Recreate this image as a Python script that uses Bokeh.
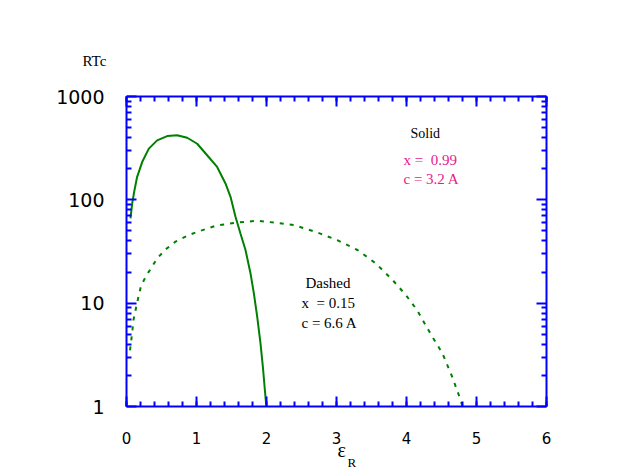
from bokeh.plotting import figure
from bokeh.models import Label, LinearAxis, LogAxis, FixedTicker, Range1d, PrintfTickFormatter, Title
from bokeh.embed import file_html
from bokeh.resources import INLINE

# ---- data ----
solid_x = [0.057, 0.081, 0.114, 0.152, 0.224, 0.319, 0.438, 0.581, 0.724, 0.867, 1.01,
           1.152, 1.295, 1.414, 1.486, 1.557, 1.629, 1.70, 1.771, 1.819, 1.867, 1.914,
           1.952, 1.976, 1.995]
solid_y = [66, 92, 124, 167, 232, 313, 376, 414, 421, 399, 349,
           270, 208, 144, 107, 68.5, 47, 32.7, 19.5, 12.5, 7.4, 4.1,
           2.27, 1.46, 1.05]

dashed_x = [0.05, 0.08, 0.10, 0.15, 0.20, 0.25, 0.32, 0.44, 0.56, 0.70, 0.87, 1.01, 1.27,
            1.58, 1.87, 2.13, 2.39, 2.72, 3.01, 3.30, 3.56, 3.80, 3.99, 4.15, 4.34, 4.51,
            4.65, 4.77, 4.80]
dashed_y = [3.5, 5.1, 6.9, 10, 14, 16.8, 20.2, 27.2, 33.2, 39.4, 45, 49, 56,
            60.4, 62.7, 60, 57, 48.5, 40.8, 32.7, 24.3, 16.8, 12, 8.6, 5.1, 3.3,
            1.96, 1.17, 1.0]

x_major = [0, 1, 2, 3, 4, 5, 6]
x_minor = [i / 5 for i in range(0, 31)]
y_major = [1, 10, 100, 1000]
y_minor = [m * d for d in (1, 10, 100) for m in range(2, 10)]

y_title = "RTc"
x_title = ["\u03b5", "R"]
solid_label = ["Solid", "x = \u00a00.99", "c = 3.2 A"]
dashed_label = ["Dashed", "x \u00a0= 0.15", "c = 6.6 A"]

BLUE = "#0000ff"
GREEN = "#008000"
PINK = "#e8198b"
SERIF = "Liberation Serif"
SANS = "DejaVu Sans"

p = figure(width=631, height=471, x_range=Range1d(0, 6), y_range=Range1d(1, 1000),
           y_axis_type="log", output_backend="svg", toolbar_location=None,
           min_border_left=126, min_border_right=85, min_border_top=96,
           min_border_bottom=64, x_axis_location=None, y_axis_location=None)
p.grid.visible = False
p.outline_line_color = None
p.background_fill_color = "white"
p.border_fill_color = "white"


def style(ax, show_labels):
    ax.axis_line_color = BLUE
    ax.axis_line_width = 2
    ax.major_tick_line_color = BLUE
    ax.minor_tick_line_color = BLUE
    ax.major_tick_line_width = 2
    ax.minor_tick_line_width = 2
    ax.major_tick_in = 10
    ax.major_tick_out = 0
    ax.minor_tick_in = 5
    ax.minor_tick_out = 0
    if not show_labels:
        ax.major_label_text_font_size = "0px"
        ax.major_label_text_alpha = 0
        ax.major_label_standoff = 0


xb = LinearAxis(ticker=FixedTicker(ticks=x_major, minor_ticks=x_minor))
style(xb, True)
xb.major_label_text_font = SANS
xb.major_label_text_font_size = "15px"
xb.major_label_text_color = "black"
xb.major_label_standoff = 25
p.add_layout(xb, "below")

xt = LinearAxis(ticker=FixedTicker(ticks=x_major, minor_ticks=x_minor))
style(xt, False)
p.add_layout(xt, "above")

yl = LogAxis(ticker=FixedTicker(ticks=y_major, minor_ticks=y_minor))
style(yl, True)
yl.formatter = PrintfTickFormatter(format="%d")
yl.major_label_text_font = SANS
yl.major_label_text_font_size = "19px"
yl.major_label_text_color = "black"
yl.major_label_standoff = 22
p.add_layout(yl, "left")

yr = LogAxis(ticker=FixedTicker(ticks=y_major, minor_ticks=y_minor))
style(yr, False)
p.add_layout(yr, "right")

p.line(solid_x, solid_y, line_color=GREEN, line_width=2)
p.line(dashed_x, dashed_y, line_color=GREEN, line_width=2, line_dash="4 6")

# texts outside the frame: titles (not clipped)
p.title.text = y_title
p.title.text_font = SERIF
p.title.text_font_size = "15px"
p.title.text_font_style = "normal"
p.title.text_color = "black"
p.title.align = "left"
p.title.offset = -44
p.title.standoff = 56

t_eps = Title(text=x_title[0], text_font=SERIF, text_font_size="20px",
              text_font_style="normal", text_color="black", align="left",
              offset=211, standoff=-20)
p.add_layout(t_eps, "below")
t_r = Title(text=x_title[1], text_font=SERIF, text_font_size="13px",
            text_font_style="normal", text_color="black", align="left",
            offset=221, standoff=4)
p.add_layout(t_r, "below")


def lab(x, y, text, color="black", size="15px", align="left"):
    p.add_layout(Label(x=x, y=y, x_units="screen", y_units="screen", text=text,
                       text_font=SERIF, text_font_size=size, text_color=color,
                       text_align=align, text_baseline="middle"))


lab(284, 273, solid_label[0], size="14px")
lab(277, 247, solid_label[1], color=PINK)
lab(277, 228, solid_label[2], color=PINK)
lab(179, 124, dashed_label[0])
lab(175, 104, dashed_label[1])
lab(175, 84, dashed_label[2])

open("out.html", "w").write(file_html(p, INLINE))
